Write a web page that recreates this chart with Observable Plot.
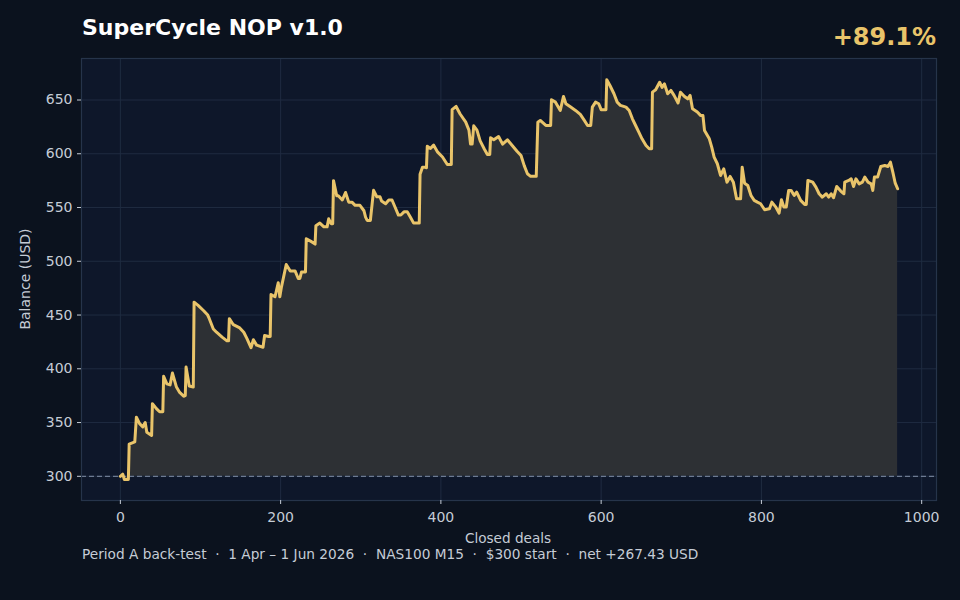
<!DOCTYPE html>
<html>
<head>
<meta charset="utf-8">
<script src="https://cdn.jsdelivr.net/npm/d3@7"></script>
<script src="https://cdn.jsdelivr.net/npm/@observablehq/plot@0.6"></script>
<style>
  html, body { margin: 0; padding: 0; background: #0b121e; }
  #wrap { position: relative; width: 960px; height: 600px; background: #0b121e; font-family: "DejaVu Sans", sans-serif; overflow: hidden; }
  #wrap svg { position: absolute; left: 0; top: 0; }
  .t { position: absolute; white-space: nowrap; line-height: 1; }
</style>
</head>
<body>
<div id="wrap">
  <div class="t" id="title" style="left:82px; top:17px; font-size:22px; font-weight:bold; color:#ffffff;">SuperCycle NOP v1.0</div>
  <div class="t" id="pct" style="right:24px; top:25px; font-size:24px; font-weight:bold; color:#e9c46a;">+89.1%</div>
  <div class="t" id="xlabel" style="left:508px; top:532px; transform:translateX(-50%); font-size:13.6px; color:#c5ccd6;">Closed deals</div>
  <div class="t" id="ylabel" style="left:25px; top:279px; transform:translate(-50%,-50%) rotate(-90deg); font-size:14px; color:#c5ccd6;">Balance (USD)</div>
  <div class="t" id="foot" style="left:82px; top:547.5px; font-size:13.7px; color:#c5ccd6;">Period A back-test &nbsp;·&nbsp; 1 Apr – 1 Jun 2026 &nbsp;·&nbsp; NAS100 M15 &nbsp;·&nbsp; $300 start &nbsp;·&nbsp; net +267.43 USD</div>
</div>
<script>
// Closed-deal index and account balance (USD)
const deals = [0,3,5,10,11,18,20,24,28,31,33,39,40,45,49,53,54,58,62,65,70,74,79,81,82,86,91,92,97,104,109,111,116,120,127,133,135,136,141,149,154,158,163,166,170,178,180,185,187,188,193,197,199,201,207,212,218,222,224,226,231,232,239,243,244,249,254,258,260,263,265,266,270,272,277,281,285,289,293,299,304,306,308,312,316,320,324,326,331,335,339,343,347,350,354,358,362,366,373,374,377,380,382,383,387,391,396,402,408,413,414,419,424,431,435,437,439,441,445,449,454,458,461,462,466,472,477,483,489,495,500,504,508,512,519,521,524,531,537,538,543,549,553,556,562,568,574,579,583,587,589,593,597,600,604,606,607,611,616,620,624,631,635,639,643,647,651,656,660,663,664,668,673,676,679,683,687,691,696,699,704,708,711,714,720,724,727,729,735,738,741,745,749,753,757,761,765,769,774,776,779,783,787,791,795,799,804,810,813,818,822,825,828,831,834,837,841,844,849,854,856,858,864,868,872,876,881,884,887,890,894,899,903,904,909,912,915,918,922,926,929,933,937,939,941,945,949,954,958,961,964,967,970];
const balance = [300,302,297,297,330,332,355,349,346,350,341,338,367.6,363,360,360,393,386,385,396,383,378,374.5,375,401.6,384,383,462,459,454,450,446.6,437,434,429.5,426,426,446.6,441,438,434,428,419.6,427,422,420,431,430,430,469,467,480,467,476,497,491,491,484,484,490,490,521,518,516,533,535.5,532,532,539.5,535,535,575,561,561,557,564,555,555,552,552,547,541,538,538,566,560,560,556,553.5,557,557,550,543,543,546,546,541,535.5,535.5,581,587.5,587.5,587,607,605,608,601.5,597,590,590,641,644,637,629.4,622,609,609,626,622,612,604.7,599.3,599.3,614.8,613,616,609,613,607.7,602.4,598.4,589,581.4,579,579,629.4,631,626.3,626.3,650.2,648,640.3,653.3,646.5,643.4,640.3,636.6,631,626.3,626.3,643.4,648,646.5,641,641,641,668.8,663.5,655.8,648,645,643.4,640.3,632.5,626.3,620.1,613.9,607.7,604.7,604.7,657.3,659.5,666.5,661.8,665,655.8,658.9,654.3,647.2,657.3,653.3,651.1,654.3,641.9,638.8,635.7,635.7,621.6,613.9,606.1,596.9,590.7,579.8,586,573.6,578.9,573.6,558.1,558.1,587.5,572.6,570.5,561.2,556.6,555,553.5,547.9,548.8,555,550.4,544.8,557.2,550.4,550.4,565.9,565.9,561.2,564.3,556.6,552.9,552.9,575.2,573.6,569,562.8,559.7,562.8,559.7,562.8,559.1,569.6,565.3,562.8,573.6,575.2,576.7,569.6,576.7,572,573.6,578.3,573.6,572,565.9,578.3,578.3,588.2,589.1,588.2,592.2,582.9,572.6,567.43];
const startBalance = 300;
const xTicks = [0, 200, 400, 600, 800, 1000];
const yTicks = [300, 350, 400, 450, 500, 550, 600, 650];

const data = deals.map((d, i) => ({deal: d, bal: balance[i]}));

const chart = Plot.plot({
  width: 960,
  height: 600,
  marginLeft: 81,
  marginRight: 24,
  marginTop: 58,
  marginBottom: 100,
  style: {background: "transparent", fontFamily: "DejaVu Sans, sans-serif", fontSize: "14px", color: "#c5ccd6"},
  x: {domain: [-48.5, 1018.5]},
  y: {domain: [277.5, 688.6]},
  marks: [
    Plot.frame({fill: "#0e172a", stroke: "none"}),
    Plot.gridX(xTicks, {stroke: "#1f2b40", strokeOpacity: 1, strokeWidth: 1}),
    Plot.gridY(yTicks, {stroke: "#1f2b40", strokeOpacity: 1, strokeWidth: 1}),
    Plot.areaY(data, {x: "deal", y1: startBalance, y2: "bal", fill: "#2d3034", fillOpacity: 1}),
    Plot.ruleY([startBalance], {stroke: "#6d7b92", strokeWidth: 1.2, strokeDasharray: "5,3"}),
    Plot.lineY(data, {x: "deal", y: "bal", stroke: "#e9c46a", strokeWidth: 3, strokeLinejoin: "round"}),
    Plot.frame({stroke: "#26344a", strokeWidth: 1.2}),
    Plot.axisX(xTicks, {label: null, tickFormat: d => String(d), tickSize: 4, tickPadding: 8, stroke: "#c5ccd6", fill: "#c5ccd6", fontSize: 14}),
    Plot.axisY(yTicks, {label: null, tickFormat: d => String(d), tickSize: 4, tickPadding: 5, stroke: "#c5ccd6", fill: "#c5ccd6", fontSize: 14})
  ]
});
document.getElementById("wrap").prepend(chart);
</script>
</body>
</html>
